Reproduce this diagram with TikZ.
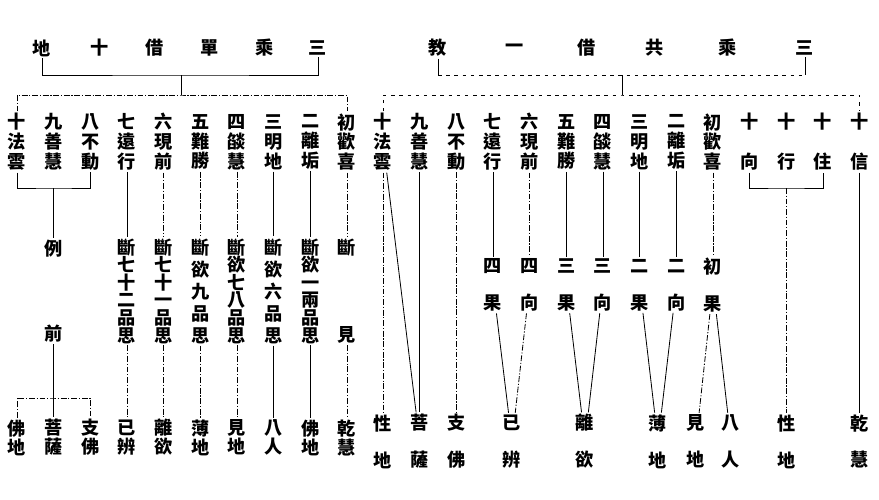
\documentclass[tikz,border=0pt]{standalone}
\usepackage{fontspec}
\newfontfamily\cjk{Noto Sans CJK TC}
\usetikzlibrary{positioning}

\begin{document}
\begin{tikzpicture}[x=0.03cm,y=-0.03cm,node distance=1.1cm,on grid]
    \tikzstyle{word}=[font=\cjk\bfseries\fontsize{15.5}{15.5}\selectfont,inner sep=1.5pt]
    \tikzstyle{col}=[word,align=center,font=\cjk\bfseries\fontsize{15.5}{17}\selectfont]
    \tikzstyle{six}=[col,font=\cjk\bfseries\fontsize{15.5}{15}\selectfont]
    \tikzstyle{five}=[col,font=\cjk\bfseries\fontsize{15.5}{18.8}\selectfont]
    \tikzstyle{pair}=[col,font=\cjk\bfseries\fontsize{15.5}{16.2}\selectfont]
    \tikzstyle{wide}=[col,font=\cjk\bfseries\fontsize{15.5}{31.5}\selectfont]
    \tikzstyle{ln}=[line width=0.7pt]
    \tikzstyle{brk}=[ln,dash pattern=on 5pt off 1.5pt on 1pt off 1.5pt]
    \tikzstyle{faint}=[ln,dash pattern=on 3pt off 4pt]

    \useasboundingbox (0,0) rectangle (879,499);

    % left title
    \node[word] (tl1) at (42,48) {地};
    \node[word] (tl2) at (100,48) {十};
    \node[word] (tl3) at (155,48) {借};
    \node[word] (tl4) at (210,48) {單};
    \node[word] (tl5) at (265,48) {乘};
    \node[word] (tl6) at (318,48) {三};

    % right title
    \node[word] (tr1) at (438,48) {教};
    \node[word] (tr2) at (515,48) {一};
    \node[word] (tr3) at (587,48) {借};
    \node[word] (tr4) at (655,48) {共};
    \node[word] (tr5) at (728,48) {乘};
    \node[word] (tr6) at (805,48) {三};

    % left ten grounds
    \node[col] (l10) at (17,142) {十\\法\\雲};
    \node[col, right=of l10] (l9) {九\\善\\慧};
    \node[col, right=of l9] (l8) {八\\不\\動};
    \node[col, right=of l8] (l7) {七\\遠\\行};
    \node[col, right=of l7] (l6) {六\\現\\前};
    \node[col, right=of l6] (l5) {五\\難\\勝};
    \node[col, right=of l5] (l4) {四\\燄\\慧};
    \node[col, right=of l4] (l3) {三\\明\\地};
    \node[col, right=of l3] (l2) {二\\離\\垢};
    \node[col, right=of l2] (l1) {初\\歡\\喜};

    \node[wide, below=4.47cm of l9] (li) {例\\[41pt]前};
    \node[six, below=4.47cm of l7] (m7) {斷\\七\\十\\二\\品\\思};
    \node[six, below=4.47cm of l6] (m6) {斷\\七\\十\\一\\品\\思};
    \node[five, below=4.47cm of l5] (m5) {斷\\欲\\九\\品\\思};
    \node[six, below=4.47cm of l4] (m4) {斷\\欲\\七\\八\\品\\思};
    \node[five, below=4.47cm of l3] (m3) {斷\\欲\\六\\品\\思};
    \node[six, below=4.47cm of l2] (m2) {斷\\欲\\一\\兩\\品\\思};
    \node[wide, below=4.47cm of l1] (m1) {斷\\[43pt]見};

    \node[pair, below=8.865cm of l10] (b10) {佛\\地};
    \node[pair, below=8.865cm of l9] (b9) {菩\\薩};
    \node[pair, below=8.865cm of l8] (b8) {支\\佛};
    \node[pair, below=8.865cm of l7] (b7) {已\\辨};
    \node[pair, below=8.865cm of l6] (b6) {離\\欲};
    \node[pair, below=8.865cm of l5] (b5) {薄\\地};
    \node[pair, below=8.865cm of l4] (b4) {見\\地};
    \node[pair, below=8.865cm of l3] (b3) {八\\人};
    \node[pair, below=8.865cm of l2] (b2) {佛\\地};
    \node[pair, below=8.865cm of l1] (b1) {乾\\慧};

    % right ten grounds
    \node[col] (r10) at (383,142) {十\\法\\雲};
    \node[col, right=of r10] (r9) {九\\善\\慧};
    \node[col, right=of r9] (r8) {八\\不\\動};
    \node[col, right=of r8] (r7) {七\\遠\\行};
    \node[col, right=of r7] (r6) {六\\現\\前};
    \node[col, right=of r6] (r5) {五\\難\\勝};
    \node[col, right=of r5] (r4) {四\\燄\\慧};
    \node[col, right=of r4] (r3) {三\\明\\地};
    \node[col, right=of r3] (r2) {二\\離\\垢};
    \node[col, right=of r2] (r1) {初\\歡\\喜};
    \node[wide, right=of r1] (rxiang) {十\\[2.5pt]向};
    \node[wide, right=of rxiang] (rxing) {十\\[2.5pt]行};
    \node[wide, right=of rxing] (rzhu) {十\\[2.5pt]住};
    \node[wide, right=of rzhu] (rxin) {十\\[2.5pt]信};

    \node[wide, below=4.29cm of r7] (n7) {四\\果};
    \node[wide, below=4.29cm of r6] (n6) {四\\向};
    \node[wide, below=4.29cm of r5] (n5) {三\\果};
    \node[wide, below=4.29cm of r4] (n4) {三\\向};
    \node[wide, below=4.29cm of r3] (n3) {二\\果};
    \node[wide, below=4.29cm of r2] (n2) {二\\向};
    \node[wide, below=4.29cm of r1] (n1) {初\\果};

    \node[wide, below=8.985cm of r10] (s10) {性\\地};
    \node[wide, below=8.985cm of r9] (s9) {菩\\薩};
    \node[wide, below=8.985cm of r8] (s8) {支\\佛};
    \node[wide] (s7) at (512,441.5) {已\\辨};
    \node[wide] (s5) at (585,441.5) {離\\欲};
    \node[wide] (s3) at (658,441.5) {薄\\地};
    \node[wide] (s2) at (696,441.5) {見\\地};
    \node[wide] (s1) at (731,441.5) {八\\人};
    \node[wide, below=8.985cm of rxing] (sx) {性\\地};
    \node[wide, below=8.985cm of rxin] (sxin) {乾\\慧};

    % left brackets
    \coordinate (hl) at (181,75);
    \coordinate (hl2) at (181,95);
    \draw[ln] (tl1.south) |- (hl) -| (tl6.south);
    \draw[ln] (hl) -- (hl2);
    \draw[brk] (l10.north) |- (hl2) -| (l1.north);

    \coordinate (bl) at (l9.south |- 0,188);
    \draw[ln] (l10.south) |- (bl) -| (l8.south);
    \draw[ln] (bl) -- (li.north);
    \coordinate (bl2) at (li.south |- 0,398);
    \draw[ln] (li.south) -- (bl2);
    \draw[brk] (b10.north) |- (bl2) -| (b8.north);
    \draw[ln] (bl2) -- (b9.north);

    % right brackets
    \coordinate (hr) at (622,75);
    \coordinate (hr2) at (622,95);
    \draw[ln] (tr1.south) -- (tr1.south |- hr) (tr6.south) -- (tr6.south |- hr);
    \draw[faint] (tr1.south |- hr) -- (tr6.south |- hr);
    \draw[ln] (hr) -- (hr2);
    \draw[faint] (r10.north) |- (hr2) -| (rxin.north);

    \coordinate (bx) at (rxing.south |- 0,188);
    \draw[ln] (rxiang.south) |- (bx) -| (rzhu.south);
    \draw[brk] (bx) -- (sx.north);

    \path[draw, ln]
    (l7) edge (m7)
    (m7) edge[brk] (b7)
    (l6) edge[brk] (m6)
    (m6) edge[brk] (b6)
    (l5) edge[brk] (m5)
    (m5) edge[brk] (b5)
    (l4) edge[brk] (m4)
    (m4) edge[brk] (b4)
    (l3) edge (m3)
    (m3) edge (b3)
    (l2) edge (m2)
    (m2) edge (b2)
    (l1) edge[brk] (m1)
    (m1) edge[brk] (b1)
    ;

    \path[draw, ln]
    (r10) edge[brk] (s10)
    (r10) edge (s9)
    (r9) edge (s9)
    (r8) edge[brk] (s8)
    (r7) edge (n7)
    (r6) edge[brk] (n6)
    (r5) edge (n5)
    (r4) edge (n4)
    (r3) edge (n3)
    (r2) edge (n2)
    (r1) edge[brk] (n1)
    (n7) edge (s7)
    (n6) edge[brk] (s7)
    (n5) edge (s5)
    (n4) edge (s5)
    (n3) edge (s3)
    (n2) edge (s3)
    (n1) edge[brk] (s2)
    (n1) edge (s1)
    (rxin) edge (sxin)
    ;
\end{tikzpicture}
\end{document}
